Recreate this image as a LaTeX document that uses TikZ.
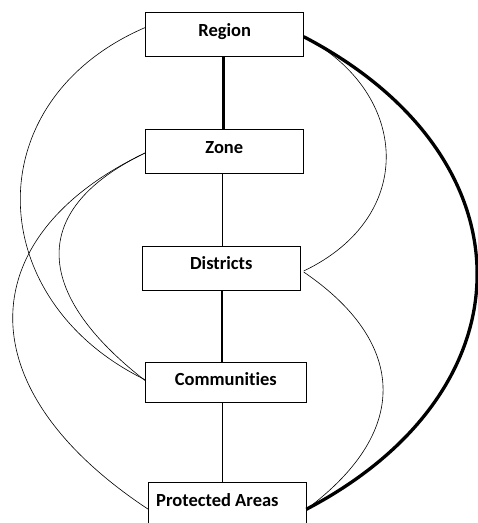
\documentclass[tikz,border=0pt]{standalone}
\usepackage{fontspec}
\setmainfont[Ligatures=NoCommon]{Carlito}
\begin{document}
\begin{tikzpicture}[x=1pt,y=-1pt,
  box/.style={draw=black,line width=0.8pt,rectangle,inner sep=0pt,minimum width=158pt,minimum height=44pt,fill=white},
  lbl/.style={inner sep=0pt,font=\fontsize{18.5}{22}\selectfont\bfseries,anchor=base},
  thin/.style={line width=0.6pt},
  vthin/.style={line width=0.9pt},
  vthick/.style={line width=2.7pt},
  heavy/.style={line width=3.3pt}]
\useasboundingbox (0,0) rectangle (478,523);
\clip (0,0) rectangle (478,523);
% curve end points
\coordinate (rL) at (145.7,27.3);
\coordinate (rR) at (303.7,36.7);
\coordinate (zL) at (145.7,152.7);
\coordinate (dR1) at (303.7,271);
\coordinate (dR2) at (303.7,272);
\coordinate (cL1) at (145.7,380);
\coordinate (cL2) at (145.7,381);
\coordinate (pL) at (148.3,509.3);
\coordinate (pR) at (306.3,509.3);
% boxes
\node[box] (region) at (224.7,34.7) {};
\node[box] (zone) at (224.7,151) {};
\node[box] (districts) at (221.3,268.3) {};
\node[box, minimum width=160.6pt, minimum height=40.7pt] (communities) at (226,382.3) {};
\node[box, minimum height=60pt] (protected) at (227.3,512) {};
\node[lbl] (regiont) at (224.7,36) {Region};
\node[lbl] (zonet) at (224.3,153.3) {Zone};
\node[lbl] (districtst) at (221.3,269.3) {Districts};
\node[lbl] (communitiest) at (225.8,385.7) {Communities};
\node[lbl,anchor=base west] (protectedt) at (156,506) {Protected Areas};
% vertical connectors
\draw[vthick] (223.7,0 |- region.south) -- (223.7,0 |- zone.north);
\draw[vthin] (222.3,0 |- zone.south) -- (222.3,0 |- districts.north);
\draw[vthick] (222,0 |- districts.south) -- (222,0 |- communities.north);
\draw[vthin] (222.3,0 |- communities.south) -- (222.3,0 |- protected.north);
% curves
\draw[thin] (rL) .. controls (-24,100) and (-19,300) .. (cL1);
\draw[thin] (zL) .. controls (30.7,207.7) and (29.7,291) .. (cL2);
\draw[thin] (zL) .. controls (-24.3,233) and (-39.7,385) .. (pL);
\draw[thin] (rR) .. controls (408.7,91.7) and (418.7,216) .. (dR1);
\draw[heavy] (rR) .. controls (533.7,156.7) and (535.3,389.3) .. (pR);
\draw[thin] (dR2) .. controls (403.7,340) and (414.3,429) .. (pR);
\end{tikzpicture}
\end{document}
